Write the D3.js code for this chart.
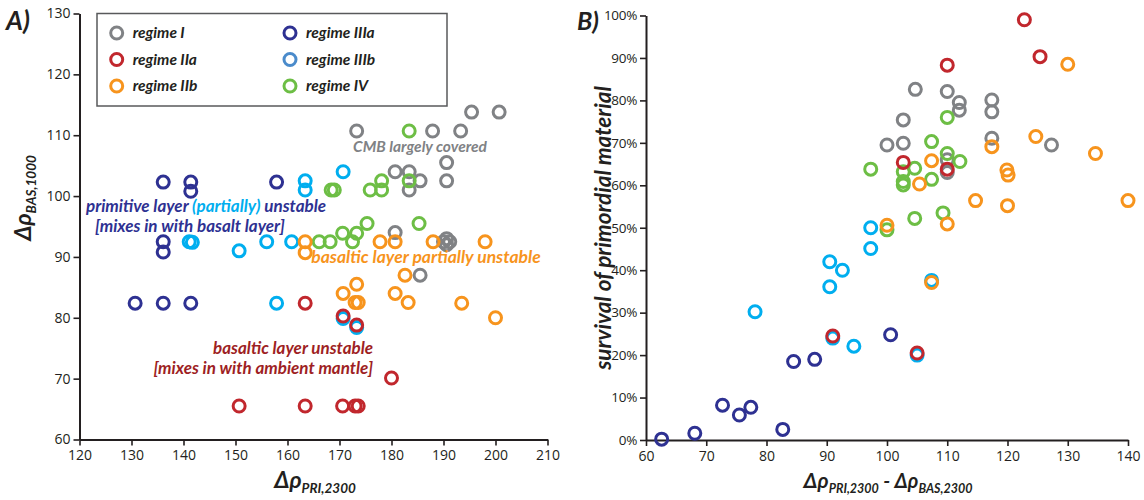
<!DOCTYPE html>
<html><head><meta charset="utf-8">
<script src="https://cdn.jsdelivr.net/npm/d3@7"></script>
<style>body{margin:0;background:#fff} svg{display:block}</style>
</head><body><svg id="c" width="1144" height="500"></svg>
<script>
// ---------- categories / colours ----------
const regimes = ["regime I", "regime IIa", "regime IIb", "regime IIIa", "regime IIIb", "regime IV"];
const pointColors = ["#808285", "#c1272d", "#f7941d", "#2e3192", "#00aeef", "#6dbe45"];
const legendColors = ["#808285", "#c1272d", "#f7941d", "#2e3192", "#4a8bcb", "#6dbe45"];
const drawOrder = [0, 4, 3, 5, 2, 1];

// ---------- ticks ----------
const ticksAx = [120, 130, 140, 150, 160, 170, 180, 190, 200, 210];
const ticksAy = [60, 70, 80, 90, 100, 110, 120, 130];
const ticksBx = [60, 70, 80, 90, 100, 110, 120, 130, 140];
const ticksBy = [0, 10, 20, 30, 40, 50, 60, 70, 80, 90, 100];

// ---------- panel A data: [Δρ PRI,2300 , Δρ BAS,1000] ----------
const aRegimeI = [[173.3,110.7],[187.9,110.7],[193.3,110.7],[195.4,113.8],[200.7,113.8],[190.6,105.5],[190.6,102.5],[180.7,104.0],[183.4,104.0],[185.5,102.5],[183.4,101.0],[180.7,94.0],[190.6,93.0],[190.6,92.0],[190.0,92.5],[191.2,92.5],[185.5,87.0]];
const aRegimeIIa = [[163.4,82.4],[170.7,80.3],[173.3,78.8],[180.0,70.1],[150.7,65.5],[163.4,65.5],[170.6,65.5],[173.0,65.5],[173.6,65.5]];
const aRegimeIIb = [[163.4,92.5],[163.4,90.7],[177.8,92.5],[180.7,92.5],[188.0,92.5],[198.0,92.5],[182.6,87.0],[170.7,84.0],[173.3,85.5],[173.0,82.5],[173.6,82.5],[180.7,84.0],[183.2,82.5],[193.5,82.4],[200.0,80.0]];
const aRegimeIIIa = [[136.1,102.3],[141.4,102.3],[141.4,100.8],[157.9,102.3],[136.1,92.5],[136.1,90.8],[130.7,82.4],[136.1,82.4],[141.4,82.4]];
const aRegimeIIIb = [[141.1,92.5],[141.7,92.4],[150.7,91.0],[156.0,92.5],[160.8,92.5],[163.4,102.5],[163.4,101.0],[170.7,104.0],[157.9,82.4],[170.7,79.9],[173.3,78.4]];
const aRegimeIV = [[183.4,110.7],[183.4,102.5],[178.1,102.5],[175.9,101.0],[178.1,101.0],[168.4,101.0],[169.0,101.0],[175.3,95.5],[185.3,95.5],[170.6,93.9],[173.3,93.9],[172.5,92.5],[166.1,92.5],[168.2,92.5]];

// ---------- panel B data: [Δρ PRI,2300 - Δρ BAS,2300 , survival %] ----------
const bRegimeI = [[104.7,82.6],[110.0,82.1],[112.0,79.5],[112.0,77.7],[117.4,80.1],[117.4,77.3],[102.7,75.4],[100.0,69.5],[102.7,69.9],[117.4,71.1],[127.3,69.5],[110.0,66.0],[110.0,63.0]];
const bRegimeIIa = [[122.8,99.0],[125.4,90.3],[110.0,88.3],[102.7,65.4],[110.0,63.8],[91.0,24.5],[105.0,20.5]];
const bRegimeIIb = [[130.0,88.5],[124.7,71.5],[134.6,67.5],[117.4,69.1],[107.4,65.8],[105.4,60.3],[119.9,63.6],[120.1,62.4],[114.7,56.4],[120.0,55.2],[140.0,56.4],[100.0,50.6],[110.0,50.9],[107.4,37.1]];
const bRegimeIIIa = [[62.6,0.2],[68.1,1.6],[72.7,8.2],[75.5,5.9],[77.4,7.7],[82.7,2.5],[84.5,18.5],[88.0,19.0],[100.6,24.8]];
const bRegimeIIIb = [[78.1,30.2],[90.5,42.0],[92.6,40.0],[90.5,36.1],[94.5,22.1],[91.0,24.0],[105.0,20.0],[97.3,50.0],[97.3,45.1],[107.4,37.6]];
const bRegimeIV = [[110.0,76.0],[107.4,70.3],[110.0,67.5],[112.1,65.6],[104.6,64.0],[97.3,63.8],[102.7,63.2],[102.7,60.9],[102.7,60.1],[107.4,61.4],[104.6,52.2],[109.3,53.5],[100.0,49.5]];

const panelA = [aRegimeI, aRegimeIIa, aRegimeIIb, aRegimeIIIa, aRegimeIIIb, aRegimeIV];
const panelB = [bRegimeI, bRegimeIIa, bRegimeIIb, bRegimeIIIa, bRegimeIIIb, bRegimeIV];

// ---------- drawing ----------
const svg = d3.select("#c");
const INK = "#231f20";
const labFont = "Lato, 'Open Sans', sans-serif";
const tickFont = "'Open Sans', 'Noto Sans', sans-serif";

const xA = d3.scaleLinear().domain([120, 210]).range([79.5, 547.5]);
const yA = d3.scaleLinear().domain([60, 130]).range([439.5, 13.5]);
const xB = d3.scaleLinear().domain([60, 140]).range([646, 1128]);
const yB = d3.scaleLinear().domain([0, 100]).range([440, 15.5]);

function drawAxes(x, y, xt, yt, yfmt) {
  const gx = svg.append("g").attr("transform", `translate(0,${y.range()[0]})`)
    .call(d3.axisBottom(x).tickValues(xt).tickSize(6).tickSizeOuter(0).tickPadding(5));
  const gy = svg.append("g").attr("transform", `translate(${x.range()[0]},0)`)
    .call(d3.axisLeft(y).tickValues(yt).tickSize(6).tickSizeOuter(0).tickPadding(3).tickFormat(yfmt));
  [gx, gy].forEach(g => {
    g.select(".domain").attr("stroke", INK).attr("stroke-width", 2);
    g.selectAll(".tick line").attr("stroke", INK).attr("stroke-width", 1.6);
    g.selectAll(".tick text").attr("fill", INK).style("font-family", tickFont).style("font-size", "14px");
  });
  return gy;
}
drawAxes(xA, yA, ticksAx, ticksAy, d => d);
const gyB = drawAxes(xB, yB, ticksBx, ticksBy, d => d + "%");
gyB.selectAll(".tick text").style("font-size", "13.5px").style("letter-spacing", "-0.3px");

function drawPoints(data, x, y) {
  drawOrder.forEach(i => {
    svg.append("g").selectAll("circle").data(data[i]).join("circle")
      .attr("cx", d => x(d[0])).attr("cy", d => y(d[1])).attr("r", 6)
      .attr("fill", "none").attr("stroke", pointColors[i]).attr("stroke-width", 3);
  });
}

// legend
const lg = svg.append("g");
lg.append("rect").attr("x", 97).attr("y", 13.5).attr("width", 350).attr("height", 92.5)
  .attr("fill", "#fff").attr("stroke", "#58595b").attr("stroke-width", 1.5);
const legendCols = [116.7, 290];
const legendRows = [33, 59.5, 86];
regimes.forEach((r, i) => {
  const cx = legendCols[Math.floor(i / 3)], cy = legendRows[i % 3];
  lg.append("circle").attr("cx", cx).attr("cy", cy).attr("r", 6)
    .attr("fill", "none").attr("stroke", legendColors[i]).attr("stroke-width", 3);
  lg.append("text").attr("x", cx + 16).attr("y", cy + 5).text(r)
    .style("font-family", labFont).style("font-weight", "bold").style("font-style", "italic")
    .style("font-size", "15.5px").attr("fill", INK);
});

drawPoints(panelA, xA, yA);
drawPoints(panelB, xB, yB);

// annotations
function note(x, y, parts, anchor, size) {
  const t = svg.append("text").attr("x", x).attr("y", y).attr("text-anchor", anchor || "start")
    .style("font-family", labFont).style("font-weight", "bold").style("font-style", "italic")
    .style("font-size", (size || 17) + "px");
  parts.forEach(p => t.append("tspan").attr("fill", p[1]).text(p[0]));
}
note(420, 152, [["CMB largely covered", "#808285"]], "middle", 15.5);
note(86, 212, [["primitive layer ", "#2e3192"], ["(partially)", "#00aeef"], [" unstable", "#2e3192"]], "start", 17);
note(95, 232, [["[mixes in with basalt layer]", "#2e3192"]], "start", 17);
note(426, 263, [["basaltic layer partially unstable", "#f7941d"]], "middle", 17.5);
note(373, 354, [["basaltic layer unstable", "#9e1f24"]], "end", 17);
note(373, 374, [["[mixes in with ambient mantle]", "#9e1f24"]], "end", 17);

// panel labels
function panelLabel(x, y, s, size) {
  svg.append("text").attr("x", x).attr("y", y).text(s)
    .style("font-family", labFont).style("font-weight", "bold").style("font-style", "italic")
    .style("font-size", size + "px").attr("fill", INK);
}
panelLabel(6, 30, "A)", 26);
panelLabel(577, 30, "B)", 25);

// axis titles
function sym(t, main, sub, mainSize, subSize) {
  t.style("font-family", labFont).style("font-weight", "bold").style("font-style", "italic").attr("fill", INK);
  t.append("tspan").style("font-size", mainSize + "px").text(main);
  t.append("tspan").style("font-size", subSize + "px").attr("dy", 5).text(sub);
}
const tAx = svg.append("text").attr("x", 315).attr("y", 488).attr("text-anchor", "middle");
sym(tAx, "Δρ", "PRI,2300", 23, 13.5);
const tAy = svg.append("text").attr("transform", "translate(31,198) rotate(-90)").attr("text-anchor", "middle");
sym(tAy, "Δρ", "BAS,1000", 23, 13.5);

const tBx = svg.append("text").attr("x", 888).attr("y", 488).attr("text-anchor", "middle")
  .style("font-family", labFont).style("font-weight", "bold").style("font-style", "italic").attr("fill", INK);
tBx.append("tspan").style("font-size", "21px").text("Δρ");
tBx.append("tspan").style("font-size", "12.5px").attr("dy", 5).text("PRI,2300");
tBx.append("tspan").style("font-size", "20px").attr("dy", -5).text(" - Δρ");
tBx.append("tspan").style("font-size", "12.5px").attr("dy", 5).text("BAS,2300");

svg.append("text").attr("transform", "translate(611,228) rotate(-90)").attr("text-anchor", "middle")
  .style("font-family", labFont).style("font-weight", "bold").style("font-style", "italic")
  .style("font-size", "22.5px").attr("fill", INK).text("survival of primordial material");
</script></body></html>
